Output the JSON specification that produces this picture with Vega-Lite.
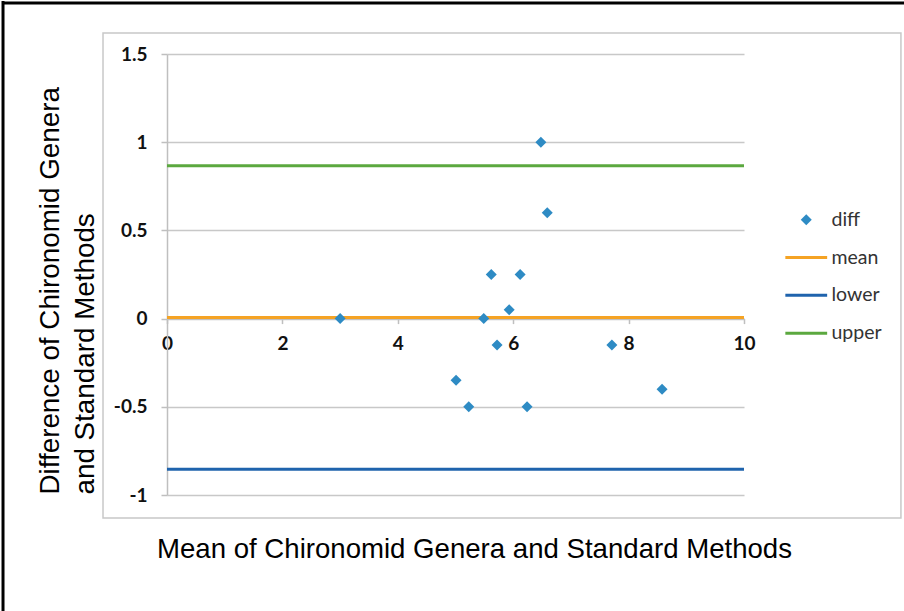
{
  "$schema": "https://vega.github.io/schema/vega-lite/v6.json",
  "autosize": "none",
  "width": 577,
  "height": 441,
  "padding": {"left": 167, "top": 54, "right": 160, "bottom": 116},
  "background": "white",
  "config": {"view": {"stroke": null}},
  "datasets": {
    "pts": [
      {"mean": 3.0, "diff": 0.0, "series": "diff"},
      {"mean": 5.01, "diff": -0.35, "series": "diff"},
      {"mean": 5.23, "diff": -0.5, "series": "diff"},
      {"mean": 5.49, "diff": 0.0, "series": "diff"},
      {"mean": 5.62, "diff": 0.25, "series": "diff"},
      {"mean": 5.72, "diff": -0.15, "series": "diff"},
      {"mean": 5.93, "diff": 0.05, "series": "diff"},
      {"mean": 6.12, "diff": 0.25, "series": "diff"},
      {"mean": 6.24, "diff": -0.5, "series": "diff"},
      {"mean": 6.48, "diff": 1.0, "series": "diff"},
      {"mean": 6.59, "diff": 0.6, "series": "diff"},
      {"mean": 7.71, "diff": -0.15, "series": "diff"},
      {"mean": 8.58, "diff": -0.4, "series": "diff"}
    ],
    "lines": [
      {"series": "mean", "diff": 0.006},
      {"series": "lower", "diff": -0.854},
      {"series": "upper", "diff": 0.866}
    ]
  },
  "layer": [
    {
      "data": {"values": [{}]},
      "mark": {"type": "rect", "filled": false, "stroke": "#C8C8C8", "strokeWidth": 1.5},
      "encoding": {
        "x": {"datum": -1.109, "type": "quantitative", "scale": {"domain": [0, 10], "nice": false, "zero": false}},
        "x2": {"datum": 12.72},
        "y": {"datum": 1.619, "type": "quantitative", "scale": {"domain": [-1, 1.5], "nice": false, "zero": false}},
        "y2": {"datum": -1.130}
      }
    },
    {
      "data": {"values": [{}]},
      "mark": {"type": "rule", "stroke": "black", "strokeWidth": 3},
      "encoding": {
        "x": {"datum": -2.842, "type": "quantitative"},
        "y": {"datum": 1.80, "type": "quantitative"},
        "y2": {"datum": -1.7}
      }
    },
    {
      "data": {"values": [{}]},
      "mark": {"type": "rule", "stroke": "black", "strokeWidth": 3},
      "encoding": {
        "x": {"datum": -2.86, "type": "quantitative"},
        "x2": {"datum": 12.8},
        "y": {"datum": 1.789, "type": "quantitative"}
      }
    },
    {
      "data": {"name": "lines"},
      "mark": {"type": "rule", "strokeWidth": 3},
      "encoding": {
        "y": {
          "field": "diff", "type": "quantitative",
          "scale": {"domain": [-1, 1.5], "nice": false, "zero": false},
          "axis": {
            "values": [-1, -0.5, 0, 0.5, 1, 1.5],
            "labelExpr": "'' + datum.value",
            "grid": true, "gridColor": "#C8C8C8", "gridWidth": 1.5,
            "domainColor": "#BFBFBF", "domainWidth": 1.5,
            "tickColor": "#BFBFBF", "tickSize": 6, "tickWidth": 1.5,
            "labelFont": "Lato", "labelFontWeight": "bold", "labelFontSize": 19, "labelColor": "#111111",
            "labelPadding": 14,
            "title": ["Difference of Chironomid Genera", "and Standard Methods"],
            "titleFont": "Liberation Sans", "titleFontSize": 27.8, "titleFontWeight": "normal", "titleColor": "#000000",
            "titleAngle": -90, "titleAlign": "left", "titleBaseline": "middle", "titleLineHeight": 35,
            "titleX": -117, "titleY": 440
          }
        },
        "color": {
          "field": "series", "type": "nominal",
          "scale": {"domain": ["diff", "mean", "lower", "upper"], "range": ["#2E8BC4", "#F5A324", "#1F63AD", "#5BA83F"]},
          "legend": {
            "title": null, "orient": "none", "legendX": 629.5, "legendY": 156,
            "padding": 0, "symbolSize": 121, "labelOffset": 15.5, "rowPadding": 16.8,
            "labelFont": "Lato", "labelFontSize": 19.5, "labelColor": "#333333",
            "encode": {
              "symbols": {
                "update": {
                  "stroke": {"scale": "color", "field": "value"},
                  "strokeWidth": {"signal": "datum.value === 'diff' ? 0 : 3"},
                  "fill": {"signal": "datum.value === 'diff' ? '#2E8BC4' : 'transparent'"}
                }
              }
            }
          }
        }
      }
    },
    {
      "data": {"name": "pts"},
      "mark": {"type": "point", "filled": true, "opacity": 1, "size": 121},
      "encoding": {
        "x": {
          "field": "mean", "type": "quantitative",
          "scale": {"domain": [0, 10], "nice": false, "zero": false},
          "axis": {
            "orient": "bottom", "offset": -176.4,
            "values": [0, 2, 4, 6, 8, 10],
            "labelExpr": "'' + datum.value",
            "labelFlush": false,
            "grid": false,
            "domainColor": "#BFBFBF", "domainWidth": 1.5,
            "tickColor": "#BFBFBF", "tickSize": 5, "tickWidth": 1.5,
            "labelFont": "Lato", "labelFontWeight": "bold", "labelFontSize": 19, "labelColor": "#111111",
            "labelPadding": 11,
            "title": "Mean of Chironomid Genera and Standard Methods",
            "titleFont": "Liberation Sans", "titleFontSize": 27.6, "titleFontWeight": "normal", "titleColor": "#000000",
            "titleAlign": "center", "titleBaseline": "alphabetic", "titleX": 307, "titleY": 238.4
          }
        },
        "y": {"field": "diff", "type": "quantitative"},
        "color": {"field": "series", "type": "nominal"},
        "shape": {
          "field": "series", "type": "nominal",
          "scale": {"domain": ["diff", "mean", "lower", "upper"], "range": ["diamond", "M-3.8,0H3.8", "M-3.8,0H3.8", "M-3.8,0H3.8"]},
          "legend": {"title": null, "orient": "none", "legendX": 629.5, "legendY": 156, "padding": 0, "symbolSize": 121, "labelOffset": 15.5, "rowPadding": 16.8, "labelFont": "Lato", "labelFontSize": 19.5, "labelColor": "#333333"}
        }
      }
    }
  ]
}
